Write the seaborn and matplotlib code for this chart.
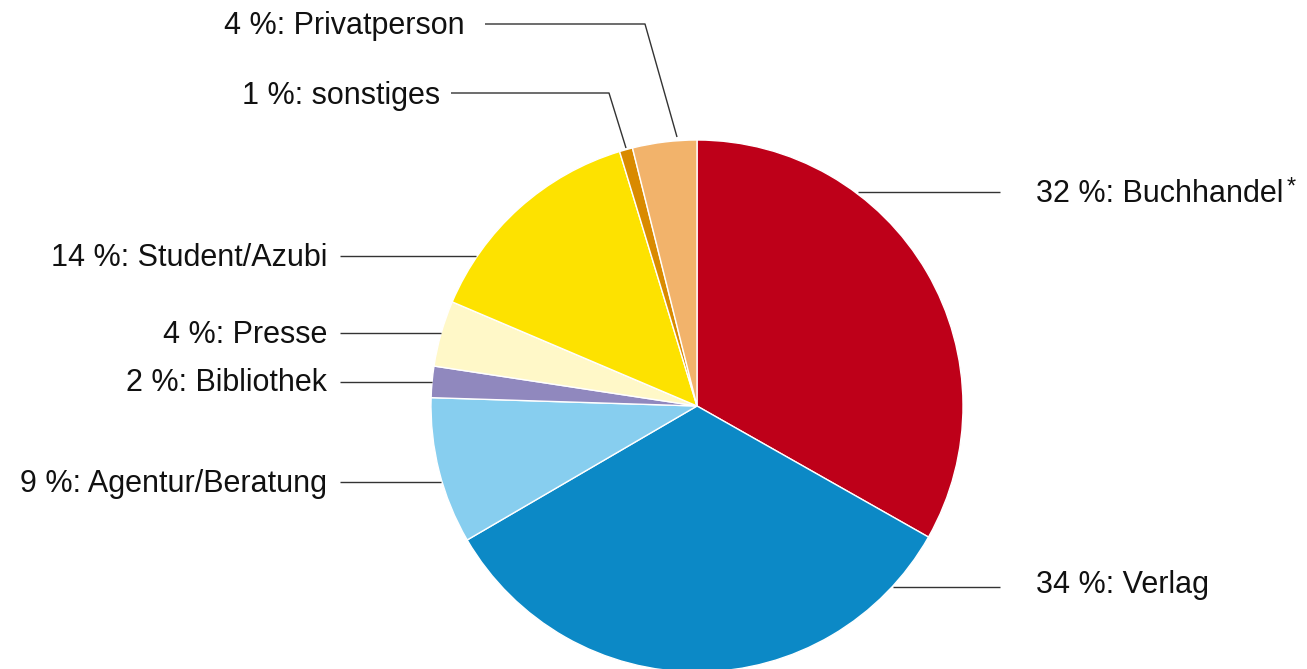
import matplotlib
matplotlib.use("Agg")
import matplotlib.pyplot as plt
import seaborn as sns

sns.set_theme(style="white")
plt.rcParams['font.family'] = ['Liberation Sans', 'DejaVu Sans']

categories = ["Buchhandel", "Verlag", "Agentur/Beratung", "Bibliothek", "Presse",
              "Student/Azubi", "sonstiges", "Privatperson"]
label_pct = [32, 34, 9, 2, 4, 14, 1, 4]
shares = [33.2, 33.4, 8.9, 1.9, 4.0, 13.9, 0.8, 3.9]
colors = ["#BE0019", "#0C89C6", "#87CEEF", "#9088BE", "#FFF8C8",
          "#FDE200", "#D98A00", "#F2B36B"]

W, H = 1307, 669
fig = plt.figure(figsize=(W / 100, H / 100), dpi=100)
ax = fig.add_axes([0, 0, 1, 1])

cx, cy, r = 697, H - 406, 266
ax.pie(shares, colors=colors, startangle=90, counterclock=False,
       center=(cx, cy), radius=r, frame=True,
       wedgeprops=dict(edgecolor='white', linewidth=1))
ax.set_xlim(0, W)
ax.set_ylim(0, H)
ax.set_aspect('equal')
ax.axis('off')

# label layout: (text x, text y, ha, leader polyline points) in pixel coords (y from top)
layout = {
    "Privatperson": (465, 24, 'right', [(485, 24), (645, 24), (677, 137)]),
    "sonstiges": (440, 94, 'right', [(451, 93), (609, 93), (626, 148)]),
    "Student/Azubi": (327, 256, 'right', [(340, 256), (476, 256)]),
    "Presse": (327, 333, 'right', [(340, 333), (441, 333)]),
    "Bibliothek": (327, 381, 'right', [(340, 382), (432, 382)]),
    "Agentur/Beratung": (327, 482, 'right', [(340, 482), (441, 482)]),
    "Buchhandel": (1036, 192, 'left', [(858, 192), (1000, 192)]),
    "Verlag": (1036, 583, 'left', [(893, 587), (1000, 587)]),
}

fig.canvas.draw()
renderer = fig.canvas.get_renderer()
for cat, pct in zip(categories, label_pct):
    tx, ty, ha, pts = layout[cat]
    xs = [p[0] for p in pts]
    ys = [H - p[1] for p in pts]
    ax.plot(xs, ys, color='#333333', linewidth=1, solid_capstyle='butt')
    t = ax.text(tx, H - ty - 2, f"{pct} %: {cat}", ha=ha, va='center',
                fontsize=22, color='#111111')
    if cat == "Buchhandel":
        bb = t.get_window_extent(renderer=renderer)
        ax.text(bb.x1 + 3, H - ty + 4, "*", ha='left', va='center',
                fontsize=17, color='#111111')

fig.savefig("out.png", dpi=100)
